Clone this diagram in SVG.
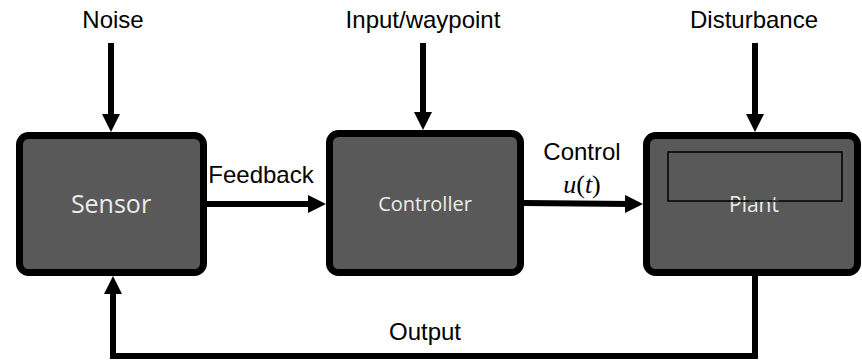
<svg xmlns="http://www.w3.org/2000/svg" width="862" height="362" viewBox="0 0 862 362">
<style>
.box{fill:#595959;stroke:#000;stroke-width:7}
.blabel{font-family:"Open Sans","Noto Sans",sans-serif;fill:#ececec;text-anchor:middle}
.lbl{font-family:"Liberation Sans",Arial,sans-serif;font-size:24px;fill:#000;text-anchor:middle}
.conn{fill:none;stroke:#000;stroke-width:6;marker-end:url(#ah)}
.math{font-family:"Liberation Serif","Times New Roman",serif;font-size:26px;fill:#000}
</style>
<defs>
<marker id="ah" markerUnits="userSpaceOnUse" markerWidth="18" markerHeight="18" viewBox="0 0 18 18" refX="6" refY="9" orient="auto">
<path d="M0,0 L18,9 L0,18 Z" fill="#000"/>
</marker>
</defs>
<rect width="862" height="362" fill="#fff"/>
<g id="connectors">
<path class="conn" d="M111,43 L111,120"/>
<path class="conn" d="M423,43 L423,118"/>
<path class="conn" d="M755,43 L755,120"/>
<path class="conn" d="M207,204 L314,204"/>
<path class="conn" d="M524,203 L631,204"/>
<path class="conn" d="M755,276 L755,356 L113,356 L113,288"/>
</g>
<g id="sensor">
<rect class="box" x="19.5" y="135.5" width="184" height="137" rx="9"/>
<text class="blabel" x="111" y="213" font-size="25">Sensor</text>
</g>
<g id="controller">
<rect class="box" x="329.5" y="133.5" width="191" height="139" rx="9"/>
<text class="blabel" x="425" y="211" font-size="20">Controller</text>
</g>
<g id="plant">
<rect class="box" x="646.5" y="135.5" width="211" height="137" rx="9"/>
<text class="blabel" x="754" y="212" font-size="21">Plant</text>
<rect x="668" y="152" width="174" height="49" fill="none" stroke="#000" stroke-width="1.5"/>
</g>
<g id="labels">
<text class="lbl" x="113" y="28">Noise</text>
<text class="lbl" x="423" y="28">Input/waypoint</text>
<text class="lbl" x="754" y="28">Disturbance</text>
<text class="lbl" x="261" y="183">Feedback</text>
<text class="lbl" x="582" y="160">Control</text>
<text class="math" x="582" y="193" text-anchor="middle"><tspan font-style="italic">u</tspan>(<tspan font-style="italic">t</tspan>)</text>
<text class="lbl" x="425" y="340">Output</text>
</g>
</svg>
